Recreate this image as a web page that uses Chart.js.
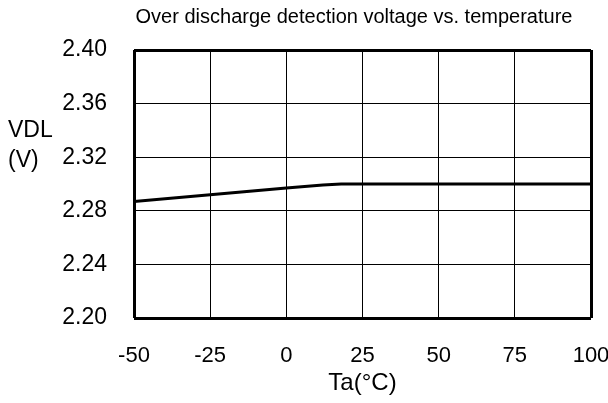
<!DOCTYPE html>
<html>
<head>
<meta charset="utf-8">
<script src="https://cdn.jsdelivr.net/npm/chart.js@4/dist/chart.umd.min.js"></script>
<style>
  body { margin: 0; background: #fff; }
</style>
</head>
<body>
<canvas id="graficoVdl" width="608" height="403"></canvas>
<script>
    // datos
    const temperaturas = [-50, -25, 0, 12, 18, 25, 50, 75, 100];
    const voltajes = [2.287, 2.292, 2.297, 2.2993, 2.300, 2.300, 2.300, 2.300, 2.300];
    const ticksX = [-50, -25, 0, 25, 50, 75, 100];
    const ticksY = [2.20, 2.24, 2.28, 2.32, 2.36, 2.40];

    const titulo = "Over discharge detection voltage vs. temperature";
    const tituloY = ["VDL", "(V)"];
    const tituloX = "Ta(°C)";

    const fuente = "'Liberation Sans', Arial, sans-serif";

    let miCanvas = document.getElementById("graficoVdl").getContext("2d");

    // textos sueltos: titulo y etiqueta del eje Y
    const textos = {
        id: "textos",
        afterDraw(chart) {
            const ctx = chart.ctx;
            ctx.save();
            ctx.fillStyle = "#000";
            ctx.textBaseline = "middle";
            ctx.textAlign = "center";
            ctx.font = "20px " + fuente;
            ctx.fillText(titulo, 354, 17);
            ctx.textAlign = "left";
            ctx.font = "23px " + fuente;
            ctx.fillText(tituloY[0], 8, 131);
            ctx.fillText(tituloY[1], 8, 161);
            ctx.restore();
        }
    };

    const bordes = (ctx) => {
        const n = ctx.chart.scales[ctx.scale.id].ticks.length;
        return (ctx.index === 0 || ctx.index === n - 1) ? 3 : 1;
    };

    var chart = new Chart(miCanvas, {
        type: "scatter",
        data: {
            datasets: [
                {
                    label: "VDL",
                    data: temperaturas.map((t, i) => ({ x: t, y: voltajes[i] })),
                    showLine: true,
                    borderColor: "#000",
                    borderWidth: 3,
                    pointRadius: 0,
                    tension: 0
                }
            ]
        },
        options: {
            responsive: false,
            animation: false,
            events: [],
            layout: { padding: { top: 50, right: 17, left: 0, bottom: 0 } },
            plugins: {
                legend: { display: false },
                tooltip: { enabled: false }
            },
            scales: {
                x: {
                    type: "linear",
                    min: ticksX[0],
                    max: ticksX[ticksX.length - 1],
                    afterBuildTicks: (s) => { s.ticks = ticksX.map(v => ({ value: v })); },
                    ticks: {
                        color: "#000",
                        padding: 25,
                        maxRotation: 0,
                        font: { family: fuente, size: 22 }
                    },
                    grid: { color: "#000", lineWidth: bordes, drawTicks: false },
                    border: { display: false },
                    title: {
                        display: true,
                        text: tituloX,
                        color: "#000",
                        padding: { top: 0, bottom: 5 },
                        font: { family: fuente, size: 24 }
                    },
                    afterFit: (s) => { s.height = 85; s.paddingLeft = 0; s.paddingRight = 0; }
                },
                y: {
                    type: "linear",
                    min: ticksY[0],
                    max: ticksY[ticksY.length - 1],
                    afterBuildTicks: (s) => { s.ticks = ticksY.map(v => ({ value: v })); },
                    ticks: {
                        color: "#000",
                        padding: 27,
                        font: { family: fuente, size: 23 },
                        callback: (v) => v.toFixed(2)
                    },
                    grid: { color: "#000", lineWidth: bordes, drawTicks: false },
                    border: { display: false },
                    afterFit: (s) => { s.width = 134; s.paddingTop = 0; s.paddingBottom = 0; }
                }
            }
        },
        plugins: [textos]
    });
</script>
</body>
</html>
